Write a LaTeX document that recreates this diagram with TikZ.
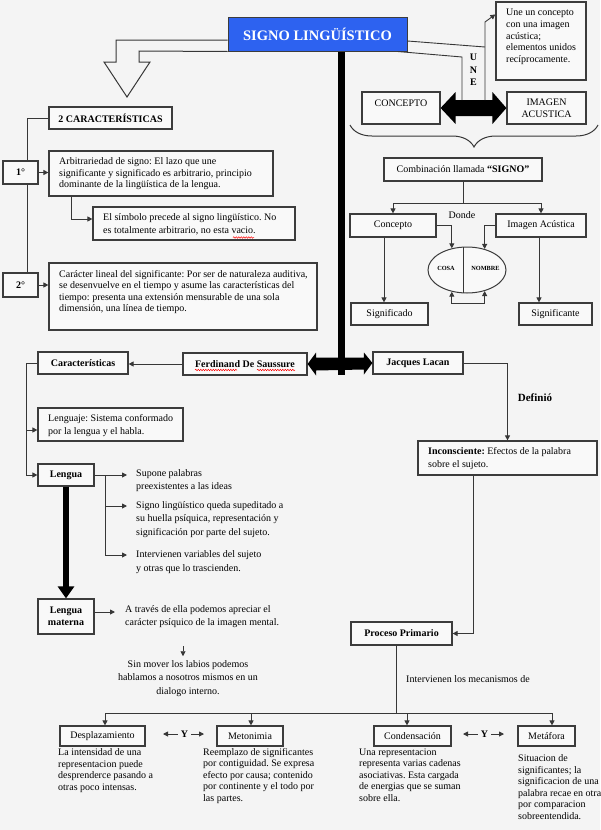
\documentclass[tikz,border=0pt]{standalone}
\usepackage{fontspec}
\setmainfont{Liberation Serif}
\usetikzlibrary{arrows.meta,shapes.geometric,decorations.pathreplacing,decorations.pathmorphing,calc}
\definecolor{bg}{RGB}{244,244,244}
\definecolor{boxfill}{RGB}{249,249,249}
\definecolor{edge}{RGB}{60,60,60}
\definecolor{wirec}{RGB}{55,55,55}
\definecolor{titleblue}{RGB}{45,98,240}
\tikzset{
  fnt/.style={font=\fontsize{10}{11.5}\selectfont},
  bx/.style={draw=edge, line width=1.2pt, fill=boxfill, inner sep=0pt, fnt},
  bbx/.style={bx, font=\fontsize{10}{11.5}\selectfont\bfseries},
  ftxt/.style={inner sep=0pt, align=left, font=\fontsize{10}{13.5}\selectfont},
  desc/.style={inner sep=0pt, align=left, font=\fontsize{10}{11.5}\selectfont},
  wire/.style={draw=wirec, line width=0.9pt},
  arr/.style={wire, ->},
  darr/.style={wire, <->},
  squig/.style={draw=red, line width=0.5pt, decorate, decoration={snake, amplitude=0.7pt, segment length=2.5pt}},
  >={Triangle[length=5pt,width=5pt]}
}
\begin{document}
\frenchspacing
\begin{tikzpicture}[x=1pt, y=-1pt]
\useasboundingbox (0,0) rectangle (600,830);
\fill[bg] (0,0) rectangle (600,830);

% ---------- title ----------
\node[draw=edge, line width=1pt, fill=titleblue, minimum width=179pt, minimum height=34pt,
      font=\fontsize{14.5}{16}\selectfont\bfseries, text=white] (title) at (317.5,34) {SIGNO LINGÜÍSTICO};

% hollow block arrow to 2 caracteristicas
\draw[wire, line width=1pt] ($(title.west)+(0,6)$) -- (116,40) -- (116,62) -- (104,62) -- (127,97)
   -- (150,62) -- (139,62) -- (139,51) -- (title.south west);

% ---------- left upper ----------
\node[bbx, minimum width=123pt, minimum height=22pt] (car2) at (110.5,118) {2 CARACTERÍSTICAS};
\node[bbx, minimum width=35pt, minimum height=23pt] (p1) at (20.5,172.5) {1°};
\node[bx, minimum width=224pt, minimum height=45pt] (arb) at (161,173.5) {};
\node[desc, anchor=west] (arbtxt) at (59,174)
  {Arbitrariedad de signo: El lazo que une\\ significante y significado es arbitrario, principio\\ dominante de la lingüística de la lengua.};
\node[bx, minimum width=202pt, minimum height=33pt] (sym) at (194,223.5) {};
\node[desc, anchor=west, font=\fontsize{10}{12.5}\selectfont] (symtxt) at (103,224.5)
  {El símbolo precede al signo lingüístico. No\\ es totalmente arbitrario, no esta vacio.};
\node[bbx, minimum width=35pt, minimum height=24pt] (p2) at (20.5,285) {2°};
\node[bx, minimum width=268pt, minimum height=67pt] (lin) at (183,296.5) {};
\node[desc, anchor=west] (lintxt) at (59,292)
  {Carácter lineal del significante: Por ser de naturaleza auditiva,\\ se desenvuelve en el tiempo y asume las características del\\ tiempo: presenta una extensión mensurable de una sola\\ dimensión, una línea de tiempo.};
\draw[squig] (233,237.5) -- (254,237.5);

\draw[wire] (car2.west) -| ($(p1.north)+(6.5,0)$);
\draw[wire] ($(p1.south)+(6.5,0)$) -- ($(p2.north)+(6.5,0)$);
\draw[arr] (p1.east) -- (p1.east -| arb.west);
\draw[arr] (p2.east) -- (p2.east -| lin.west);
\draw[arr] ($(arb.south west)+(23,0)$) |- ($(sym.west)+(0,-4.5)$);

% ---------- right upper ----------
\node[bx, minimum width=90pt, minimum height=78pt] (une) at (541,41) {};
\node[desc, anchor=west, font=\fontsize{10}{11.8}\selectfont] (unetxt) at (506,36.8)
  {Une un concepto\\ con una imagen\\ acústica;\\ elementos unidos\\ recíprocamente.};
\node[bx, minimum width=78pt, minimum height=32pt] (cpt) at (401,108) {\raisebox{1.7pt}[0pt][0pt]{CONCEPTO}};
\node[bx, minimum width=79pt, minimum height=32pt, align=center, font=\fontsize{10}{12}\selectfont] (img) at (546.5,108) {IMAGEN\\ ACUSTICA};
\node[font=\fontsize{10}{12.5}\selectfont\bfseries, align=center, inner sep=0pt] (unelbl) at (473.5,70) {U\\N\\E};

\coordinate (ua) at (462,100);
\coordinate (ub) at (485,100);
\fill[black] (cpt.east) -- ($(cpt.east)+(15,-16)$) -- ($(cpt.east)+(15,-8)$) -- ($(img.west)+(-14,-8)$)
   -- ($(img.west)+(-14,-16)$) -- (img.west) -- ($(img.west)+(-14,16)$) -- ($(img.west)+(-14,8)$)
   -- ($(cpt.east)+(15,8)$) -- ($(cpt.east)+(15,16)$) -- cycle;
\draw[wire] ($(title.east)+(0,7)$) -- (485,47);
\draw[wire] ($(title.south east)+(-10,0)$) -- (462,57) -- (ua);
\draw[arr] (ub) -- (485,22) -- ($(une.north west)+(0,13)$);

\draw[wire, line width=1pt, decorate, decoration={brace, mirror, amplitude=22pt, aspect=0.5}] (350,125) -- (598,125);

\node[bx, minimum width=158pt, minimum height=23pt] (comb) at (463,169.5) {Combinación llamada \textbf{“SIGNO”}};
\node[bx, minimum width=86pt, minimum height=23pt] (conc) at (393,225.5) {Concepto};
\node[bx, minimum width=90pt, minimum height=23pt] (imag) at (541,225.5) {Imagen Acústica};
\node[fnt, inner sep=0pt] (donde) at (462,215) {Donde};
\node[ellipse, draw=edge, line width=1pt, fill=boxfill, minimum width=78pt, minimum height=46pt, inner sep=0pt] (ell) at (467,270) {};
\draw[wire] ($(ell.center)+(-4,-22.9)$) -- ($(ell.center)+(-4,22.9)$);
\node[font=\fontsize{6.3}{7}\selectfont\bfseries, inner sep=0pt] (cosa) at (446,268.5) {COSA};
\node[font=\fontsize{6.3}{7}\selectfont\bfseries, inner sep=0pt] (nombre) at (485.5,268.5) {NOMBRE};
\node[bx, minimum width=77pt, minimum height=22pt] (signif) at (389.5,314) {Significado};
\node[bx, minimum width=73pt, minimum height=22pt] (signte) at (555.5,314) {Significante};

\draw[arr] (comb.south) -- ++(0,22) -| (conc.north);
\draw[arr] (comb.south) -- ++(0,22) -| (imag.north);
\draw[arr] (conc.east) -| (ell.125);
\draw[arr] (imag.west) -| (ell.50);
\draw[darr] (ell.235) -- ++(0,12) -| (ell.310);
\coordinate (cs) at ($(conc.south)+(-9,0)$);
\draw[arr] (cs) -- (cs |- signif.north);
\coordinate (is) at ($(imag.south)+(-2,0)$);
\draw[arr] (is) -- (is |- signte.north);

% ---------- thick bar & middle double arrow ----------
\node[bbx, minimum width=90pt, minimum height=22pt] (cara) at (83,363) {Características};
\node[bbx, minimum width=124pt, minimum height=22pt] (ferd) at (245,364) {Ferdinand De Saussure};
\node[bbx, minimum width=90pt, minimum height=22pt] (jac) at (418,363) {Jacques Lacan};
\draw[squig] (195,370) -- (237,370);
\draw[squig] (257,370) -- (295,370);
\draw[black, line width=7pt] ($(title.south)+(23.5,0)$) -- ($(title.south)+(23.5,323)$);
\fill[black] (ferd.east) -- ($(ferd.east)+(8.5,-11.5)$) -- ($(ferd.east)+(8.5,-6.5)$) -- ($(jac.west)+(-8.5,-5.5)$)
   -- ($(jac.west)+(-8.5,-10.5)$) -- (jac.west) -- ($(jac.west)+(-8.5,11.5)$) -- ($(jac.west)+(-8.5,6.5)$)
   -- ($(ferd.east)+(8.5,6.5)$) -- ($(ferd.east)+(8.5,11.5)$) -- cycle;
\draw[arr] (ferd.west) -- (ferd.west -| cara.east);

% ---------- left lower ----------
\node[bx, minimum width=145pt, minimum height=33pt] (lenguaje) at (110.5,424.5) {};
\node[desc, anchor=west, font=\fontsize{10}{12.5}\selectfont] (lenguajetxt) at (48,425.5)
  {Lenguaje: Sistema conformado\\ por la lengua  y el habla.};
\node[bbx, minimum width=56pt, minimum height=22pt] (lengua) at (66,475) {Lengua};
\node[bbx, minimum width=56pt, minimum height=35pt, align=center] (lmat) at (66,616.5) {Lengua\\ materna};
\draw[arr] ($(cara.west)+(-11,0)$) |- ($(lenguaje.west)+(0,5.5)$);
\draw[arr] (cara.west) -- ++(-11,0) |- (lengua.west);

\node[ftxt, anchor=west] (supone) at (136,480.5) {Supone palabras\\ preexistentes a las ideas};
\node[ftxt, anchor=west] (signo) at (136,519.5) {Signo lingüístico queda supeditado a\\ su huella psíquica, representación y\\ significación por parte del sujeto.};
\node[ftxt, anchor=west] (interv) at (136,562) {Intervienen variables del sujeto\\ y otras que lo trascienden.};
\draw[arr] (lengua.east) -- ($(supone.west)+(-9,-5.5)$);
\draw[arr] ($(lengua.east)+(11,0)$) |- ($(signo.west)+(-9,-13.5)$);
\draw[arr] ($(lengua.east)+(11,0)$) |- ($(interv.west)+(-9,-7)$);
\draw[black, line width=6pt, -{Triangle[length=12pt,width=16pt]}] (lengua.south) -- (lmat.north);

\node[ftxt, anchor=west, font=\fontsize{10}{13}\selectfont] (atraves) at (125,616.5) {A través de ella podemos apreciar el\\ carácter psíquico de la imagen mental.};
\draw[arr] ($(lmat.east)+(0,-4.5)$) -- ($(atraves.west)+(-10,-4.5)$);
\node[ftxt, align=center] (sinmover) at (188,678.5) {Sin mover los labios podemos\\ hablamos a nosotros mismos en un\\ dialogo interno.};
\draw[arr] ($(sinmover.north)+(-5,-14)$) -- ($(sinmover.north)+(-5,-4)$);

% ---------- right lower ----------
\node[font=\fontsize{11}{12}\selectfont\bfseries, inner sep=0pt] (defin) at (535,398) {Definió};
\node[bx, minimum width=179pt, minimum height=34pt] (incon) at (507.5,458) {};
\node[desc, anchor=west, font=\fontsize{10}{12.5}\selectfont] (incontxt) at (428,458.5)
  {\textbf{Inconsciente:} Efectos de la palabra\\ sobre el sujeto.};
\node[bbx, minimum width=101pt, minimum height=23pt] (proc) at (401.5,633.5) {Proceso Primario};
\draw[arr] (jac.east) -| (incon.north);
\draw[arr] ($(incon.south)+(-34.5,0)$) |- (proc.east);
\node[fnt, inner sep=0pt] (mecan) at (468,679) {Intervienen los mecanismos de};

% ---------- bottom row ----------
\node[bx, minimum width=85pt, minimum height=20pt] (desp) at (102.5,736) {Desplazamiento};
\node[bx, minimum width=66pt, minimum height=20pt] (meto) at (250,736) {Metonimia};
\node[bx, minimum width=77pt, minimum height=20pt] (cond) at (412.5,736) {Condensación};
\node[bx, minimum width=57pt, minimum height=20pt] (meta) at (546.5,736) {Metáfora};

\coordinate (bl) at (105,713);
\coordinate (br) at (552,713);
\coordinate (pp) at ($(proc.south)+(-5.5,0)$);
\draw[wire] (pp) -- (pp |- bl);
\draw[wire] (bl) -- (br);
\coordinate (dn) at ($(desp.north)+(2.5,0)$);
\coordinate (mn) at ($(meto.north)+(1,0)$);
\coordinate (cn) at ($(cond.north)+(-5.5,0)$);
\coordinate (tn) at ($(meta.north)+(5.5,0)$);
\draw[arr] (dn |- bl) -- (dn);
\draw[arr] (mn |- bl) -- (mn);
\draw[arr] (cn |- bl) -- (cn);
\draw[arr] (tn |- bl) -- (tn);

\node[font=\fontsize{10}{11}\selectfont\bfseries, inner sep=3pt] (y1) at (184.5,734) {Y};
\node[font=\fontsize{10}{11}\selectfont\bfseries, inner sep=3pt] (y2) at (484.5,734) {Y};
\coordinate (y1l) at (163,734); \coordinate (y1r) at (204,734);
\coordinate (y2l) at (463,734); \coordinate (y2r) at (504,734);
\draw[arr] (y1.west) -- (y1l);
\draw[arr] (y1.east) -- (y1r);
\draw[arr] (y2.west) -- (y2l);
\draw[arr] (y2.east) -- (y2r);

\node[desc, anchor=west] (desptxt) at (58,770.5) {La intensidad de una\\ representacion puede\\ desprenderce pasando a\\ otras poco intensas.};
\node[desc, anchor=west] (metotxt) at (203,776) {Reemplazo de significantes\\ por contiguidad. Se expresa\\ efecto por causa; contenido\\ por continente y el todo por\\ las partes.};
\node[desc, anchor=west] (condtxt) at (359,775) {Una representacion\\ representa varias cadenas\\ asociativas. Esta cargada\\ de energias que se suman\\ sobre ella.};
\node[desc, anchor=west] (metatxt) at (518,787) {Situacion de\\ significantes; la\\ significacion de una\\ palabra recae en otra\\ por comparacion\\ sobreentendida.};
\end{tikzpicture}
\end{document}
